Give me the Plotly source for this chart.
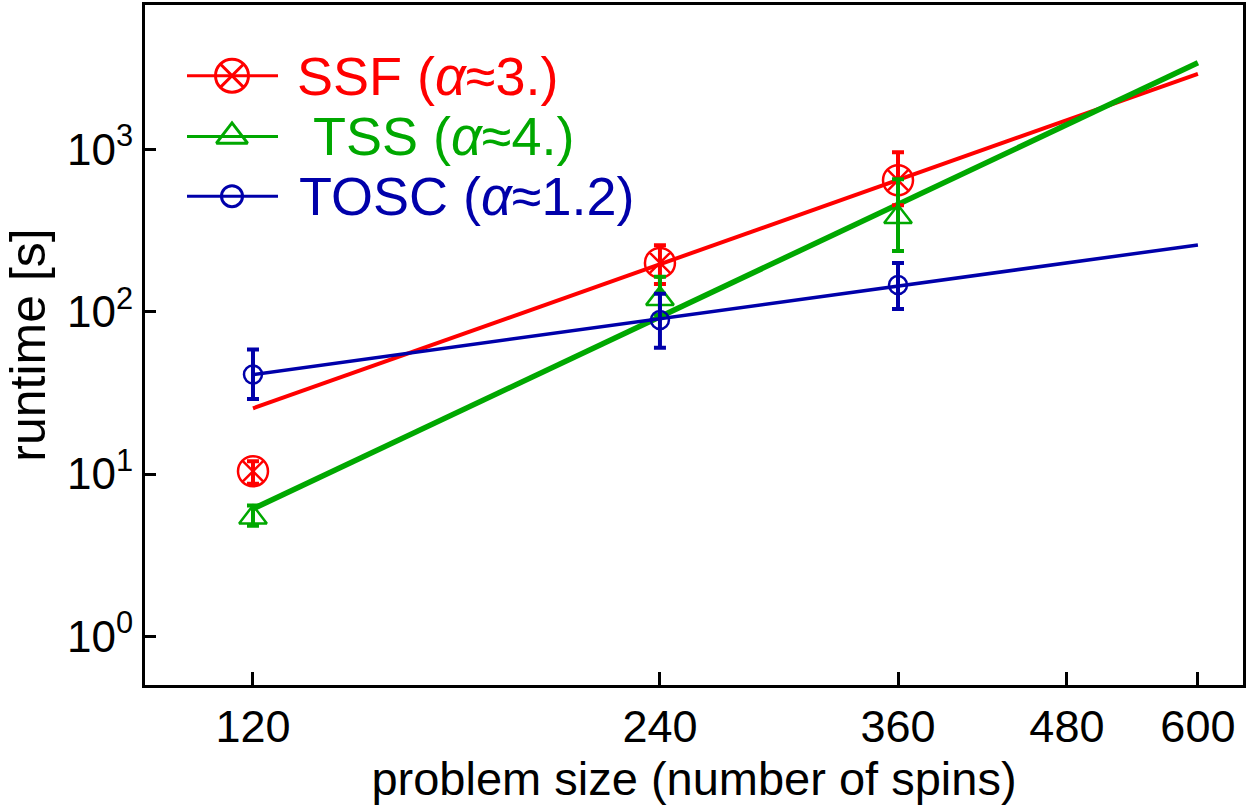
import plotly.graph_objects as go

# ---- data ----
sizes = [120, 240, 360]
ssf_vals = [10.4, 200, 646]
ssf_hi = [12.0, 257, 960]
ssf_lo = [8.7, 148, 453]
tss_vals = [5.4, 120, 383]
tss_hi = [6.4, 164, 655]
tss_lo = [4.8, 96, 237]
tosc_vals = [41, 89, 146]
tosc_hi = [58.5, 129, 200]
tosc_lo = [29, 60, 104]

fit_x = [120, 600]
ssf_fit = [25.4, 2926]
tss_fit = [6.1, 3420]
tosc_fit = [41, 258]

x_ticks = [120, 240, 360, 480, 600]
y_ticks = [1, 10, 100, 1000]
y_ticktext = ["10<sup>0</sup>", "10<sup>1</sup>", "10<sup>2</sup>", "10<sup>3</sup>"]

names = ["SSF (<i>α</i>≈3.)", " TSS (<i>α</i>≈4.)", "TOSC (<i>α</i>≈1.2)"]

RED = "#FF0000"
GREEN = "#00A800"
BLUE = "#0000AA"
FONT = "Liberation Sans"

fig = go.Figure()

# fit lines
fig.add_trace(go.Scatter(x=fit_x, y=ssf_fit, mode="lines", line=dict(color=RED, width=4), showlegend=False))
fig.add_trace(go.Scatter(x=fit_x, y=tss_fit, mode="lines", line=dict(color=GREEN, width=5.5), showlegend=False))
fig.add_trace(go.Scatter(x=fit_x, y=tosc_fit, mode="lines", line=dict(color=BLUE, width=3.5), showlegend=False))


def pts(vals, hi, lo, color, symbol, size):
    return go.Scatter(
        x=sizes, y=vals, mode="markers", showlegend=False,
        marker=dict(symbol=symbol, size=size, color=color, line=dict(color=color, width=2.5)),
        error_y=dict(type="data", symmetric=False,
                     array=[h - v for h, v in zip(hi, vals)],
                     arrayminus=[v - l for v, l in zip(vals, lo)],
                     color=color, thickness=4, width=6),
    )


fig.add_trace(pts(ssf_vals, ssf_hi, ssf_lo, RED, "circle-x-open", 30))
fig.add_trace(pts(tss_vals, tss_hi, tss_lo, GREEN, "triangle-up-open", 24))
fig.add_trace(pts(tosc_vals, tosc_hi, tosc_lo, BLUE, "circle-open", 18))

# ---- manual legend on an overlay pixel axis ----
leg_colors = [RED, GREEN, BLUE]
leg_symbols = ["circle-x-open", "triangle-up-open", "circle-open"]
leg_sizes = [33, 27, 21]
leg_rows = [73, 134, 194]
leg_text_x = [295, 297, 297]
for name, c, s, sz, ry, tx in zip(names, leg_colors, leg_symbols, leg_sizes, leg_rows, leg_text_x):
    fig.add_trace(go.Scatter(x=[187, 278], y=[ry, ry], mode="lines", line=dict(color=c, width=3),
                             xaxis="x2", yaxis="y2", showlegend=False, hoverinfo="skip"))
    fig.add_trace(go.Scatter(x=[232], y=[ry], mode="markers", xaxis="x2", yaxis="y2", showlegend=False,
                             marker=dict(symbol=s, size=sz, color=c, line=dict(color=c, width=3)),
                             hoverinfo="skip"))
    fig.add_annotation(x=tx, y=ry, xref="x2", yref="y2", text=name, showarrow=False,
                       xanchor="left", yanchor="middle", font=dict(family=FONT, size=54, color=c))

fig.update_layout(
    width=1250, height=805,
    margin=dict(l=145, r=7, t=2, b=120),
    paper_bgcolor="white", plot_bgcolor="white",
    font=dict(family=FONT, color="black"),
    xaxis=dict(type="log", range=[1.9993, 2.8115], tickvals=x_ticks, ticktext=[str(v) for v in x_ticks],
               ticks="inside", ticklen=13, tickwidth=3, tickcolor="black",
               showline=True, linewidth=3, linecolor="black", mirror=True, showgrid=False, zeroline=False,
               tickfont=dict(size=45, family=FONT),
               title=dict(text="problem size (number of spins)", font=dict(size=47, family=FONT), standoff=10)),
    yaxis=dict(type="log", range=[-0.30, 3.89], tickvals=y_ticks, ticktext=y_ticktext,
               ticks="inside", ticklen=11, tickwidth=3, tickcolor="black",
               showline=True, linewidth=3, linecolor="black", mirror=True, showgrid=False, zeroline=False,
               tickfont=dict(size=44, family=FONT),
               title=dict(text="runtime [s]", font=dict(size=50, family=FONT), standoff=6)),
    xaxis2=dict(overlaying="x", range=[145, 1243], visible=False, fixedrange=True),
    yaxis2=dict(overlaying="y", range=[685, 2], visible=False, fixedrange=True),
)

fig.write_html("out.html")
